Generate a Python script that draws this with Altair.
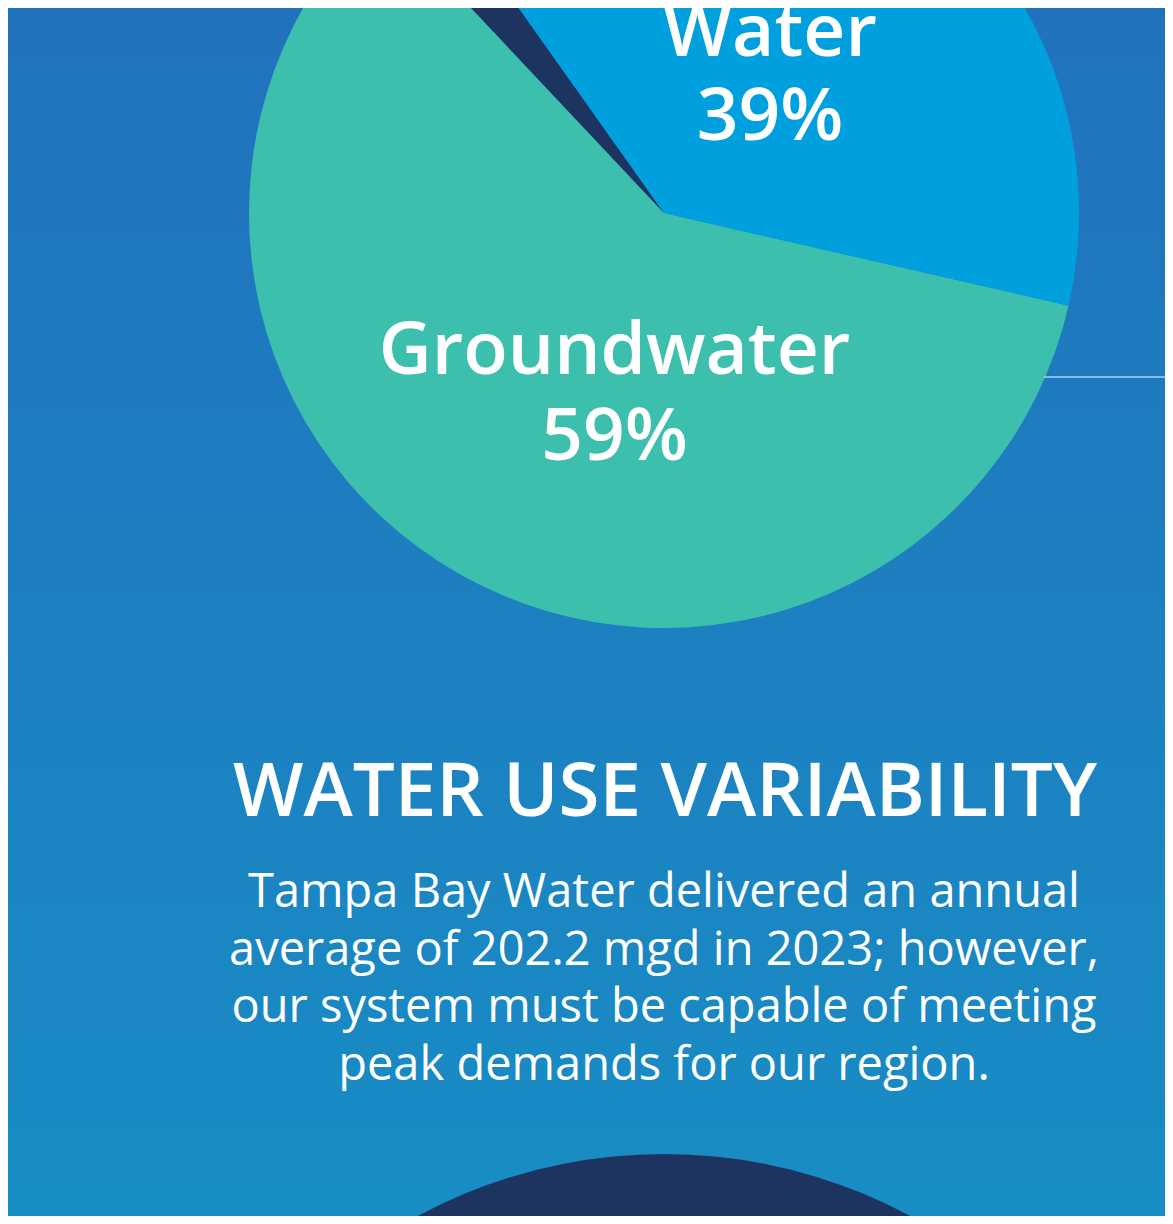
import math
import altair as alt
import pandas as pd

# ---- data ----
sources = ["Groundwater", "Desalination", "Surface Water"]
shares = [59.4, 2.2, 38.4]
slice_order = [1, 2, 3]
slice_colors = ["#3dbfad", "#1d3461", "#00a0df"]

ground_label = ["Groundwater", "59%"]
surface_label = ["Water", "39%"]
heading = "WATER USE VARIABILITY"
paragraph = [
    "Tampa Bay Water delivered an annual",
    "average of 202.2 mgd in 2023; however,",
    "our system must be capable of meeting",
    "peak demands for our region.",
]

W, H = 1157, 1208
FONT = "Open Sans"

pie_df = pd.DataFrame({"source": sources, "share": shares, "order": slice_order})
start = math.radians(102.9)

background = alt.Chart(pd.DataFrame({"a": [0]})).mark_rect(
    color=alt.LinearGradient(
        gradient="linear",
        stops=[alt.GradientStop(color="#2172bd", offset=0),
               alt.GradientStop(color="#188dc4", offset=1)],
        x1=0, x2=0, y1=0, y2=1,
    )
).encode(x=alt.value(0), x2=alt.value(W), y=alt.value(0), y2=alt.value(H))

pie = alt.Chart(pie_df).mark_arc(radius=415).encode(
    theta=alt.Theta("share:Q", stack=True,
                    scale=alt.Scale(range=[start, start + 2 * math.pi])),
    order=alt.Order("order:Q"),
    color=alt.Color("source:N", legend=None,
                    scale=alt.Scale(domain=sources, range=slice_colors)),
    x=alt.value(656), y=alt.value(205),
)

bottom_df = pd.DataFrame({"v": [1]})
bottom_circle = alt.Chart(bottom_df).mark_arc(radius=520, color="#1d3461").encode(
    theta=alt.Theta("v:Q", stack=True,
                    scale=alt.Scale(domain=[0, 1], range=[0, 2 * math.pi])),
    x=alt.value(656), y=alt.value(1666),
)

leader = alt.Chart(pd.DataFrame({"a": [0]})).mark_rule(
    color="#a9d1ee", strokeWidth=1.5
).encode(x=alt.value(1036), x2=alt.value(W), y=alt.value(369))

def text_layer(lines, x, y, size, weight, lh):
    return alt.Chart(pd.DataFrame({"t": ["\n".join(lines)]})).mark_text(
        font=FONT, fontSize=size, fontWeight=weight, color="white",
        align="center", baseline="alphabetic", lineBreak="\n", lineHeight=lh,
    ).encode(text="t:N", x=alt.value(x), y=alt.value(y))

g_text = text_layer(ground_label, 606.5, 366, 73, 600, 86)
s_text = text_layer(surface_label, 762, 48, 73, 600, 84)
head = text_layer([heading], 657, 808, 74.5, 600, 80)
paras = text_layer(paragraph, 656, 899, 47, 400, 57.7)

chart = alt.layer(background, pie, bottom_circle, leader, g_text, s_text, head, paras).resolve_scale(
    theta="independent", color="independent"
).properties(
    width=W, height=H, autosize=alt.AutoSizeParams(type="none"), padding=0,
    background="#2172bd",
).configure_view(stroke=None)

chart.save("out.html", embed_options={"renderer": "svg", "actions": False})
